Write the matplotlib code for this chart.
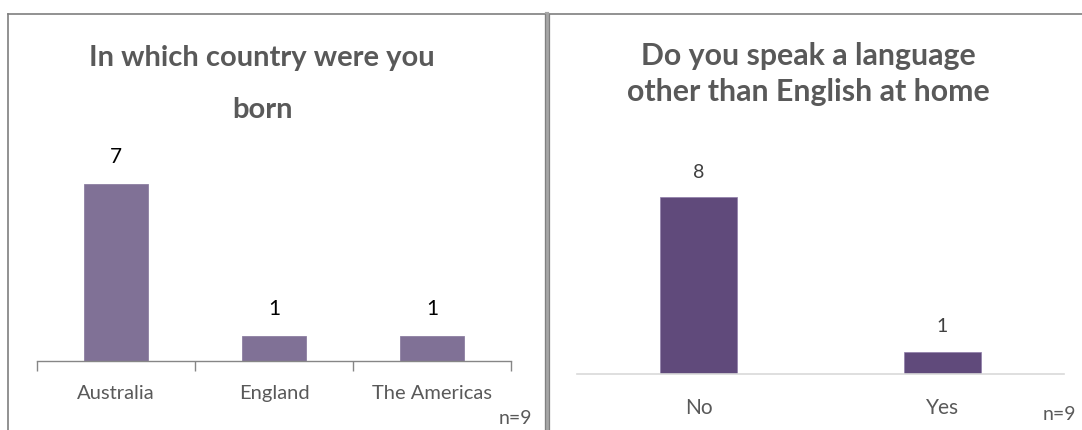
import matplotlib.pyplot as plt
from matplotlib.lines import Line2D

# survey answers
country_labels = ['Australia', 'England', 'The Americas']
country_counts = [7, 1, 1]
language_labels = ['No', 'Yes']
language_counts = [8, 1]
sample_note = 'n=9'

TITLE_GREY = '#595959'
LABEL_GREY = '#595959'

plt.rcParams['font.family'] = ['Lato', 'DejaVu Sans']

W, H = 1082, 430
fig = plt.figure(figsize=(W / 100, H / 100), dpi=100)


def px_box(left, right, base, top):
    """Axes rectangle from pixel edges (origin top-left)."""
    return [left / W, (H - base) / H, (right - left) / W, (base - top) / H]


# ---- left panel: country of birth
ax1 = fig.add_axes(px_box(37, 511, 361, 361 - 8 * 25.3))
x1 = range(len(country_labels))
bars1 = ax1.bar(x1, country_counts, width=0.4, color='#807196',
                edgecolor='#8d80a2', linewidth=0.6)
ax1.set_xlim(-0.5, len(country_labels) - 0.5)
ax1.set_ylim(0, 8)
ax1.bar_label(bars1, labels=[str(v) for v in country_counts], padding=12,
              fontsize=15, color='black')
ax1.set_xticks(list(x1))
ax1.set_xticklabels(country_labels, fontsize=14.5, color=LABEL_GREY)
ax1.set_xticks([i - 0.5 for i in range(len(country_labels) + 1)], minor=True)
ax1.tick_params(axis='x', which='major', length=0, pad=17)
ax1.tick_params(axis='x', which='minor', length=7, width=1, color='#868686',
                direction='out')
ax1.set_yticks([])
for side in ['top', 'right', 'left']:
    ax1.spines[side].set_visible(False)
ax1.spines['bottom'].set_color('#868686')
ax1.spines['bottom'].set_linewidth(1)
ax1.patch.set_alpha(0)

fig.text(262 / W, 1 - 84 / H, 'In which country were you\nborn',
         ha='center', va='center', fontsize=21, fontweight='bold',
         color=TITLE_GREY, linespacing=2.2)
fig.text(532 / W, 1 - 418 / H, sample_note, ha='right', va='center',
         fontsize=14, color=LABEL_GREY)

# ---- right panel: language spoken at home
ax2 = fig.add_axes(px_box(577, 1064, 374, 374 - 9 * 22.1))
x2 = range(len(language_labels))
bars2 = ax2.bar(x2, language_counts, width=0.316, color='#604a7b',
                edgecolor='#8e7ca8', linewidth=0.5)
ax2.set_xlim(-0.5, len(language_labels) - 0.5)
ax2.set_ylim(0, 9)
ax2.bar_label(bars2, labels=[str(v) for v in language_counts], padding=12,
              fontsize=14, color='#404040')
ax2.set_xticks(list(x2))
ax2.set_xticklabels(language_labels, fontsize=15, color=LABEL_GREY)
ax2.tick_params(axis='x', length=0, pad=17)
ax2.set_yticks([])
for side in ['top', 'right', 'left']:
    ax2.spines[side].set_visible(False)
ax2.spines['bottom'].set_color('#d9d9d9')
ax2.spines['bottom'].set_linewidth(1.2)
ax2.patch.set_alpha(0)

fig.text(808 / W, 1 - 74 / H, 'Do you speak a language\nother than English at home',
         ha='center', va='center', fontsize=21.8, fontweight='bold',
         color=TITLE_GREY, linespacing=1.33)
fig.text(1076 / W, 1 - 414 / H, sample_note, ha='right', va='center',
         fontsize=14, color=LABEL_GREY)

# ---- panel frames
def frame_line(xs, ys, **kw):
    fig.add_artist(Line2D([x / W for x in xs], [1 - y / H for y in ys],
                          transform=fig.transFigure, **kw))

frame_line([8, W], [14, 14], color='#7f7f7f', linewidth=1.2)
frame_line([8, 8], [14, H], color='#7f7f7f', linewidth=1.2)
frame_line([547, 547], [14, H], color='#a6a6a6', linewidth=3.0)
frame_line([545.3, 545.3], [14, H], color='#808080', linewidth=0.9)
frame_line([548.7, 548.7], [14, H], color='#808080', linewidth=0.9)

fig.savefig('out.png', dpi=100)
